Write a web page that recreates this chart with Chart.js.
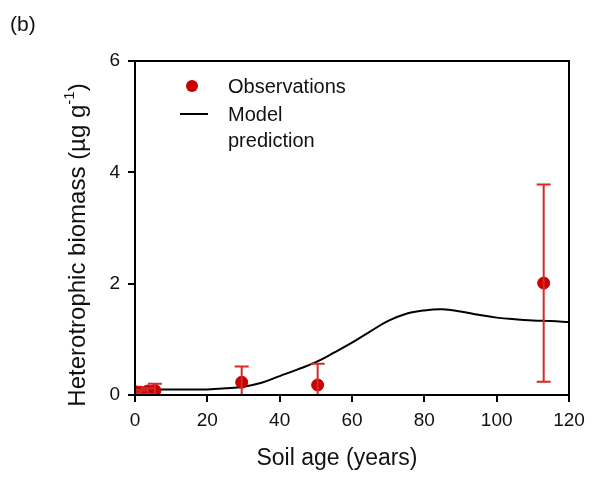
<!DOCTYPE html>
<html>
<head>
<meta charset="utf-8">
<script src="https://cdn.jsdelivr.net/npm/chart.js@4"></script>
<style>
  body { margin: 0; background: #fff; }
  #wrap { width: 595px; height: 479px; position: relative; }
</style>
</head>
<body>
<div id="wrap"><canvas id="biomassChart" width="595" height="479"></canvas></div>
<script>
// Observações (idade do solo em anos, biomassa e erro)
const obsAge = [0, 1.5, 3.5, 5.5, 29.5, 50.5, 113];
const obsBiomass = [0.06, 0.05, 0.07, 0.08, 0.23, 0.18, 2.01];
const obsError = [0.03, 0.03, 0.05, 0.12, 0.28, 0.38, 1.77];

// Curva do modelo
const modelAge = [0, 5, 10, 15, 20, 25, 30, 35, 40, 45, 50, 55, 60, 65, 70, 75, 80, 85, 90, 95, 100, 105, 110, 115, 120];
const modelBiomass = [0.1, 0.1, 0.1, 0.1, 0.1, 0.12, 0.15, 0.22, 0.34, 0.46, 0.59, 0.76, 0.94, 1.14, 1.33, 1.46, 1.52, 1.54, 1.5, 1.44, 1.39, 1.36, 1.34, 1.33, 1.31];

const xTicks = [0, 20, 40, 60, 80, 100, 120];
const yTicks = [0, 2, 4, 6];

const RED = '#c80000';
const BAR_RED = '#d42a2a';
const FONT = 'Liberation Sans, Arial, sans-serif';

// Barras de erro, moldura, legenda e títulos
const extras = {
    id: 'extras',
    afterDatasetsDraw(chart) {
        const ctx = chart.ctx;
        const xs = chart.scales.x, ys = chart.scales.y;
        const area = chart.chartArea;
        ctx.save();
        ctx.beginPath();
        ctx.rect(area.left, area.top - 10, area.right - area.left, area.bottom - area.top + 10);
        ctx.clip();
        ctx.strokeStyle = BAR_RED;
        ctx.lineWidth = 2;
        obsAge.forEach((a, i) => {
            const px = xs.getPixelForValue(a);
            const top = ys.getPixelForValue(obsBiomass[i] + obsError[i]);
            const bot = ys.getPixelForValue(obsBiomass[i] - obsError[i]);
            ctx.beginPath();
            ctx.moveTo(px, top); ctx.lineTo(px, bot);
            ctx.moveTo(px - 7, top); ctx.lineTo(px + 7, top);
            if (obsBiomass[i] - obsError[i] > 0) {
                ctx.moveTo(px - 7, bot); ctx.lineTo(px + 7, bot);
            }
            ctx.stroke();
        });
        ctx.restore();
    },
    afterDraw(chart) {
        const ctx = chart.ctx;
        const area = chart.chartArea;
        ctx.save();
        // moldura
        ctx.strokeStyle = '#000';
        ctx.lineWidth = 2;
        ctx.strokeRect(area.left, area.top, area.right - area.left, area.bottom - area.top);

        // legenda
        ctx.fillStyle = RED;
        ctx.beginPath();
        ctx.arc(192, 86, 6, 0, Math.PI * 2);
        ctx.fill();
        ctx.strokeStyle = '#000';
        ctx.lineWidth = 2;
        ctx.beginPath();
        ctx.moveTo(180, 114); ctx.lineTo(208, 114);
        ctx.stroke();
        ctx.fillStyle = '#111';
        ctx.font = '20px ' + FONT;
        ctx.textBaseline = 'middle';
        ctx.textAlign = 'left';
        ctx.fillText('Observations', 228, 87);
        ctx.fillText('Model', 228, 115);
        ctx.fillText('prediction', 228, 141);

        // rótulo do painel
        ctx.font = '21px ' + FONT;
        ctx.fillText('(b)', 10, 25);

        // título do eixo x
        ctx.font = '23px ' + FONT;
        ctx.textAlign = 'center';
        ctx.fillText('Soil age (years)', 337, 459);
        ctx.textAlign = 'left';

        // título do eixo y com sobrescrito
        ctx.translate(78, 245);
        ctx.rotate(-Math.PI / 2);
        const main = 'Heterotrophic biomass (\u00b5g g';
        ctx.font = '24px ' + FONT;
        const wMain = ctx.measureText(main).width;
        ctx.font = '15px ' + FONT;
        const wSup = ctx.measureText('-1').width;
        ctx.font = '24px ' + FONT;
        const wEnd = ctx.measureText(')').width;
        let x0 = -(wMain + wSup + wEnd) / 2;
        ctx.fillText(main, x0, 0);
        ctx.font = '15px ' + FONT;
        ctx.fillText('-1', x0 + wMain, -8);
        ctx.font = '24px ' + FONT;
        ctx.fillText(')', x0 + wMain + wSup, 0);
        ctx.restore();
    }
};

const ctx = document.getElementById('biomassChart').getContext('2d');
new Chart(ctx, {
    type: 'scatter',
    data: {
        datasets: [{
            label: 'Model prediction',
            data: modelAge.map((a, i) => ({ x: a, y: modelBiomass[i] })),
            showLine: true,
            borderColor: '#000',
            borderWidth: 2,
            pointRadius: 0,
            tension: 0.4,
            order: 2
        }, {
            label: 'Observations',
            data: obsAge.map((a, i) => ({ x: a, y: obsBiomass[i] })),
            backgroundColor: RED,
            borderColor: RED,
            pointRadius: 6,
            order: 1
        }]
    },
    options: {
        responsive: false,
        animation: false,
        devicePixelRatio: 1,
        layout: { padding: { top: 61, right: 26, left: 0, bottom: 0 } },
        plugins: { legend: { display: false }, tooltip: { enabled: false } },
        scales: {
            x: {
                type: 'linear',
                min: 0, max: 120,
                afterBuildTicks: s => { s.ticks = xTicks.map(v => ({ value: v })); },
                afterFit: s => { s.height = 84; },
                grid: { drawOnChartArea: false, tickLength: 7, color: '#000', lineWidth: 2 },
                border: { color: '#000', width: 2 },
                ticks: { color: '#111', font: { size: 19, family: FONT }, padding: 7, maxRotation: 0 }
            },
            y: {
                min: 0, max: 6,
                afterBuildTicks: s => { s.ticks = yTicks.map(v => ({ value: v })); },
                afterFit: s => { s.width = 135; },
                grid: { drawOnChartArea: false, tickLength: 7, color: '#000', lineWidth: 2 },
                border: { color: '#000', width: 2 },
                ticks: { color: '#111', font: { size: 19, family: FONT }, padding: 8 }
            }
        }
    },
    plugins: [extras]
});
</script>
</body>
</html>
